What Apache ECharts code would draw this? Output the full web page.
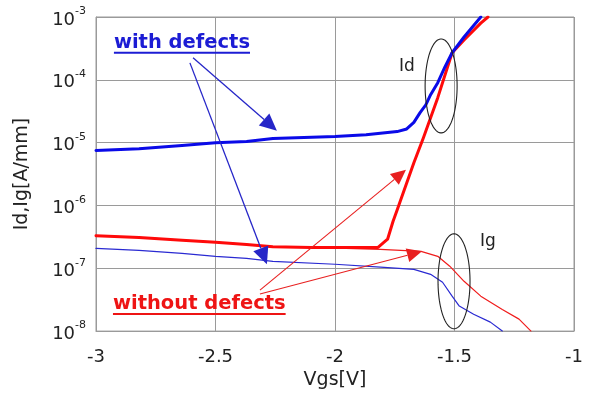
<!DOCTYPE html>
<html>
<head>
<meta charset="utf-8">
<script src="https://cdn.jsdelivr.net/npm/echarts@6/dist/echarts.min.js"></script>
<style>
  html, body { margin: 0; padding: 0; background: #fff; }
  #chart { width: 590px; height: 395px; }
</style>
</head>
<body>
<div id="chart"></div>
<script>
// Gate voltage (V) and currents (A/mm) for the device with defects
const vgsIdWith = [-3.00, -2.82, -2.64, -2.50, -2.37, -2.26, -2.00, -1.87, -1.74, -1.70, -1.67, -1.644, -1.62, -1.60, -1.57, -1.54, -1.51, -1.46, -1.39];
const idWith    = [7.5e-6, 8.0e-6, 9.0e-6, 1.0e-5, 1.04e-5, 1.16e-5, 1.25e-5, 1.34e-5, 1.5e-5, 1.65e-5, 2.1e-5, 3.0e-5, 4.0e-5, 5.8e-5, 9.0e-5, 1.6e-4, 2.7e-4, 4.8e-4, 1.0e-3];
const vgsIgWith = [-3.00, -2.82, -2.64, -2.50, -2.37, -2.26, -2.00, -1.81, -1.67, -1.60, -1.55, -1.51, -1.48, -1.42, -1.35, -1.30];
const igWith    = [2.07e-7, 1.93e-7, 1.73e-7, 1.55e-7, 1.44e-7, 1.29e-7, 1.16e-7, 1.04e-7, 9.6e-8, 8.0e-8, 6.0e-8, 3.6e-8, 2.5e-8, 1.86e-8, 1.39e-8, 1.0e-8];

// Gate voltage (V) and currents (A/mm) for the device without defects
const vgsIdWithout = [-3.00, -2.82, -2.64, -2.50, -2.37, -2.26, -2.10, -1.82, -1.78, -1.757, -1.74, -1.67, -1.63, -1.57, -1.51, -1.46, -1.39, -1.36];
const idWithout    = [3.3e-7, 3.1e-7, 2.8e-7, 2.6e-7, 2.4e-7, 2.2e-7, 2.15e-7, 2.15e-7, 2.9e-7, 5.6e-7, 8.5e-7, 4.8e-6, 1.2e-5, 5.2e-5, 2.7e-4, 4.3e-4, 8.0e-4, 1.0e-3];
const vgsIgWithout = [-3.00, -2.82, -2.64, -2.50, -2.37, -2.26, -2.10, -1.81, -1.64, -1.57, -1.52, -1.46, -1.39, -1.30, -1.23, -1.18];
const igWithout    = [3.3e-7, 3.1e-7, 2.8e-7, 2.6e-7, 2.4e-7, 2.2e-7, 2.15e-7, 2.0e-7, 1.86e-7, 1.55e-7, 1.08e-7, 6.2e-8, 3.6e-8, 2.2e-8, 1.55e-8, 1.0e-8];

// Axis ticks
const vgsTicks = [-3, -2.5, -2, -1.5, -1];

// Annotation anchors in data units [Vgs, current]
const labelWith = [-2.925, 3.9e-4];
const labelWithout = [-2.929, 2.7e-8];
const arrowsWith = [
  [[-2.594, 2.24e-4], [-2.243, 1.55e-5]],
  [[-2.607, 1.86e-4], [-2.285, 1.16e-7]]
];
const arrowsWithout = [
  [[-2.314, 4.5e-8], [-1.703, 3.7e-6]],
  [[-2.314, 3.9e-8], [-1.636, 1.86e-7]]
];
const ellipseId = [-1.556, 8.0e-5];
const ellipseIg = [-1.502, 6.2e-8];
const textId = [-1.699, 1.6e-4];
const textIg = [-1.360, 2.7e-7];

const FONT = '"DejaVu Sans", Verdana, sans-serif';
const pairs = (xs, ys) => xs.map((x, i) => [x, ys[i]]);

const chart = echarts.init(document.getElementById('chart'), null, { renderer: 'canvas' });

function lineSeries(name, xs, ys, color, width, z) {
  return {
    name, type: 'line', data: pairs(xs, ys), symbol: 'none', z,
    lineStyle: { color, width, join: 'round', cap: 'round' }
  };
}

chart.setOption({
  animation: false,
  backgroundColor: '#fff',
  grid: { left: 96, right: 16, top: 17, bottom: 63, show: true, borderColor: '#9a9a9a', borderWidth: 1 },
  xAxis: {
    type: 'value', min: -3, max: -1, interval: 0.5,
    name: 'Vgs[V]', nameLocation: 'middle', nameGap: 39,
    nameTextStyle: { fontFamily: FONT, fontSize: 19, color: '#222' },
    axisLine: { show: true, lineStyle: { color: '#9a9a9a' } },
    axisTick: { show: false },
    axisLabel: {
      margin: 17, fontFamily: FONT, fontSize: 18, color: '#222',
      formatter: v => (vgsTicks.indexOf(v) >= 0 ? String(v) : '')
    },
    splitLine: { show: true, lineStyle: { color: '#9a9a9a', width: 1 } }
  },
  yAxis: {
    type: 'log', logBase: 10, min: 1e-8, max: 1e-3, splitNumber: 5,
    name: 'Id,Ig[A/mm]', nameLocation: 'middle', nameGap: 64,
    nameTextStyle: { fontFamily: FONT, fontSize: 19, color: '#222' },
    axisLine: { show: true, lineStyle: { color: '#9a9a9a' } },
    axisTick: { show: false },
    axisLabel: {
      margin: 10, color: '#222',
      formatter: v => '{b|10}{e|' + Math.round(Math.log10(v)) + '}',
      rich: {
        b: { fontFamily: FONT, fontSize: 18, color: '#222', lineHeight: 24, verticalAlign: 'bottom' },
        e: { fontFamily: FONT, fontSize: 11, color: '#222', lineHeight: 24, verticalAlign: 'top', padding: [1, 0, 0, 0] }
      }
    },
    splitLine: { show: true, lineStyle: { color: '#9a9a9a', width: 1 } }
  },
  series: [
    lineSeries('Ig with defects', vgsIgWith, igWith, '#2a2ad2', 1.2, 2),
    lineSeries('Ig without defects', vgsIgWithout, igWithout, '#f01c1c', 1.2, 2),
    lineSeries('Id without defects', vgsIdWithout, idWithout, '#ff0a0a', 3, 3),
    lineSeries('Id with defects', vgsIdWith, idWith, '#0a0ae8', 3, 4)
  ]
});

// ---- annotations: callout labels, arrows and ellipses ----
const toPx = p => chart.convertToPixel({ xAxisIndex: 0, yAxisIndex: 0 }, p);
const measure = (() => {
  const ctx = document.createElement('canvas').getContext('2d');
  return (txt, font) => { ctx.font = font; return ctx.measureText(txt).width; };
})();

function underlinedLabel(txt, anchor, color) {
  const [x, y] = toPx(anchor);
  const font = 'bold 19.5px ' + FONT;
  const w = measure(txt, font);
  return [
    { type: 'text', x, y, z: 10, style: { text: txt, font, fill: color, textVerticalAlign: 'middle', verticalAlign: 'middle' } },
    { type: 'line', z: 10, shape: { x1: x, y1: y + 10, x2: x + w, y2: y + 10 }, style: { stroke: color, lineWidth: 2 } }
  ];
}

function arrow(from, to, color, width, headLen, headHalf) {
  const [x0, y0] = toPx(from);
  const [x1, y1] = toPx(to);
  const dx = x1 - x0, dy = y1 - y0, L = Math.hypot(dx, dy);
  const ux = dx / L, uy = dy / L;
  const bx = x1 - ux * headLen, by = y1 - uy * headLen;
  return [
    { type: 'line', z: 9, shape: { x1: x0, y1: y0, x2: bx, y2: by }, style: { stroke: color, lineWidth: width } },
    { type: 'polygon', z: 9, shape: { points: [[x1, y1], [bx - uy * headHalf, by + ux * headHalf], [bx + uy * headHalf, by - ux * headHalf]] }, style: { fill: color } }
  ];
}

function ellipse(center, rx, ry) {
  const [cx, cy] = toPx(center);
  const pts = [];
  for (let i = 0; i < 90; i++) {
    const a = (i / 90) * Math.PI * 2;
    pts.push([cx + rx * Math.cos(a), cy + ry * Math.sin(a)]);
  }
  return { type: 'polygon', z: 9, shape: { points: pts }, style: { fill: 'none', stroke: '#222', lineWidth: 1.1 } };
}

function plainText(txt, anchor) {
  const [x, y] = toPx(anchor);
  return { type: 'text', x, y, z: 10, style: { text: txt, font: '17px ' + FONT, fill: '#222', align: 'center', verticalAlign: 'middle', textAlign: 'center', textVerticalAlign: 'middle' } };
}

const graphics = [].concat(
  underlinedLabel('with defects', labelWith, '#1c1cd4'),
  underlinedLabel('without defects', labelWithout, '#ee1414'),
  ...arrowsWith.map(a => arrow(a[0], a[1], '#2626c8', 1.3, 17, 8)),
  ...arrowsWithout.map(a => arrow(a[0], a[1], '#e82020', 1.1, 15, 7)),
  [ellipse(ellipseId, 16, 47), ellipse(ellipseIg, 16, 47.5), plainText('Id', textId), plainText('Ig', textIg)]
);

chart.setOption({ graphic: { elements: graphics } });
</script>
</body>
</html>
